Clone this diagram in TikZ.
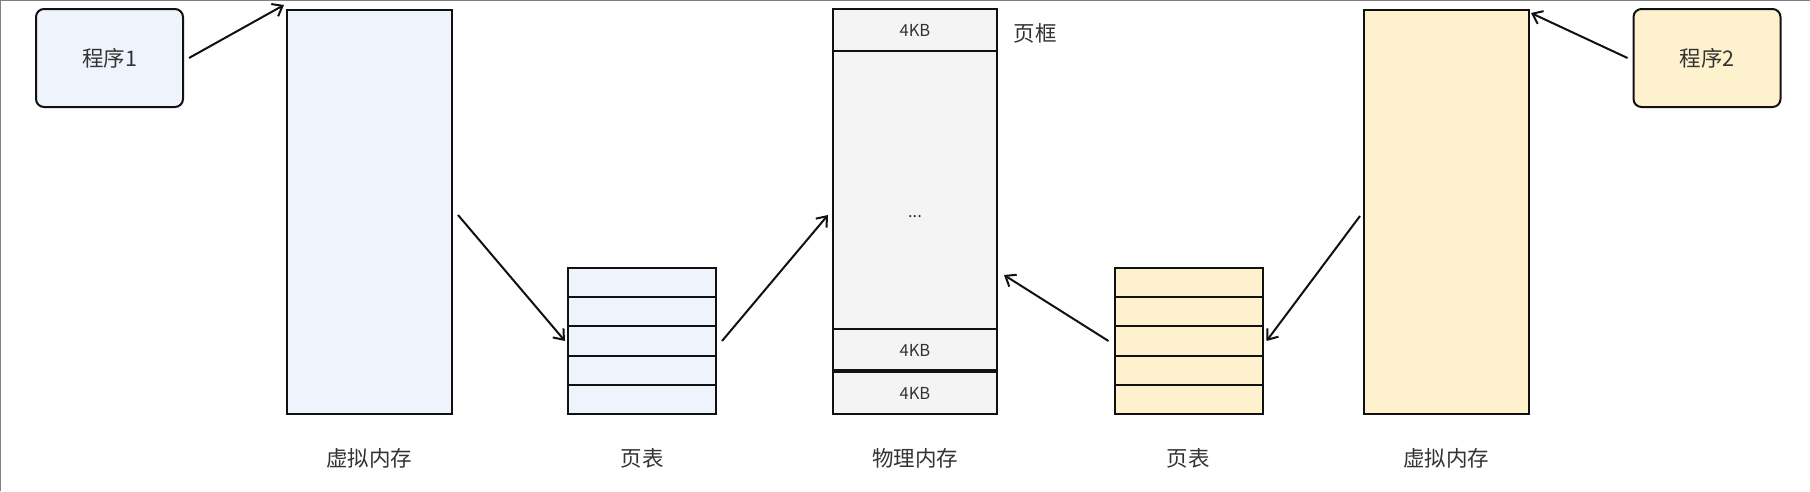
\documentclass[tikz,border=0pt]{standalone}
\usepackage{fontspec}
\setmainfont{Noto Sans CJK SC}
\usetikzlibrary{arrows.meta,calc,positioning}
\definecolor{vmink}{HTML}{111111}
\definecolor{vmtext}{HTML}{333333}
\definecolor{vmblue}{HTML}{EEF3FC}
\definecolor{vmyellow}{HTML}{FEF1CE}
\definecolor{vmgray}{HTML}{F4F4F4}
\tikzset{
  progbox/.style={draw=vmink,rounded corners=8pt,line width=2pt,
    minimum width=147pt,minimum height=98pt,inner sep=0pt,
    font=\fontsize{21.5}{25}\selectfont,text=vmtext},
  memblock/.style={draw=vmink,line width=2pt,minimum width=165pt,
    minimum height=404pt,inner sep=0pt},
  tablerow/.style={draw=vmink,line width=2pt,minimum width=148pt,
    minimum height=29.2pt,inner sep=0pt},
  framerow/.style={draw=vmink,line width=2pt,minimum width=164pt,inner sep=0pt,
    font=\fontsize{16.5}{20}\selectfont,text=vmtext},
  caption/.style={font=\fontsize{21.5}{25}\selectfont,text=vmtext},
  maparrow/.style={draw=vmink,line width=2pt,-{Straight Barb[length=9pt,width=14pt]}},
}
\begin{document}
\begin{tikzpicture}[x=1pt,y=-1pt]
  \path[use as bounding box,fill=white] (0,0) rectangle (1810,491);
  \draw[gray,line width=1.5pt] (0,491) -- (0,0) -- (1810,0);
  % left side: program 1
  \node[progbox,fill=vmblue] (prog1) at (109.5,58) {程序1};
  \node[memblock,fill=vmblue] (vm1) at (369.5,212) {};
  \foreach \i in {1,...,5}
    \node[tablerow,fill=vmblue] (pta\i) at (642,{268+29.2*(\i-0.5)}) {};
  % physical memory
  \node[framerow,fill=vmgray,minimum height=42pt] (pmtop) at (915,30) {4KB};
  \node[framerow,fill=vmgray,minimum height=278pt,
    label={[framerow,draw=none,yshift=-27pt]center:...}] (pmmid) at (915,190) {};
  \node[framerow,fill=vmgray,minimum height=43pt] (pmlow) at (915,350.5) {4KB};
  \node[framerow,fill=vmgray,minimum height=42pt] (pmend) at (915,393) {4KB};
  \draw[vmink,line width=4.5pt] (pmend.north west) -- (pmend.north east);
  \node[caption,right=12pt of pmtop.east,anchor=west,yshift=-3pt] (frame) {页框};
  % right side: program 2
  \foreach \i in {1,...,5}
    \node[tablerow,fill=vmyellow] (ptb\i) at (1188.5,{268+29.2*(\i-0.5)}) {};
  \node[memblock,fill=vmyellow] (vm2) at (1446.5,212) {};
  \node[progbox,fill=vmyellow] (prog2) at (1707,58) {程序2};
  % captions
  \node[caption] (cvm1) at (369,458) {虚拟内存};
  \node[caption] (cpt1) at (642,458) {页表};
  \node[caption] (cpm) at (915,458) {物理内存};
  \node[caption] (cpt2) at (1188,458) {页表};
  \node[caption] (cvm2) at (1446,458) {虚拟内存};
  % mappings
  \draw[maparrow] ([xshift=5pt]prog1.east) -- ([shift={(-2pt,4pt)}]vm1.north west);
  \draw[maparrow] ([shift={(5pt,-3pt)}]vm1.east) -- ([xshift=-2pt]pta3.west);
  \draw[maparrow] ([xshift=5pt]pta3.east) -- ([shift={(-4pt,-25pt)}]pmmid.west);
  \draw[maparrow] ([xshift=-5pt]ptb3.west) -- ([shift={(6pt,-85pt)}]pmmid.east);
  \draw[maparrow] ([shift={(-3pt,-4pt)}]vm2.west) -- ([xshift=3pt]ptb3.east);
  \draw[maparrow] ([xshift=-5pt]prog2.west) -- ([shift={(1pt,-4pt)}]vm2.north east);
\end{tikzpicture}
\end{document}
